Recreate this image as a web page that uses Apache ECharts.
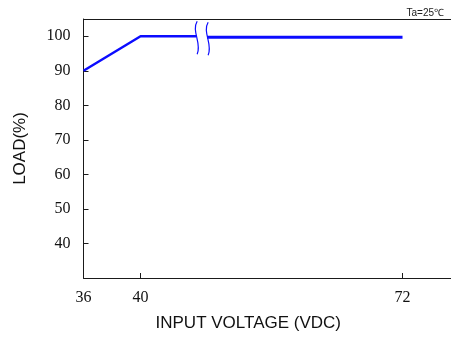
<!DOCTYPE html>
<html><head><meta charset="utf-8">
<script src="https://cdn.jsdelivr.net/npm/echarts@6/dist/echarts.min.js"></script>
<style>html,body{margin:0;padding:0;background:#fff}#c{width:451px;height:337px}</style>
</head><body><div id="c"></div>
<script>
// Data
const voltageLow = [36, 40, 43.9];
const loadLow = [90, 100, 100];
const voltageHigh = [58.3, 72];
const loadHigh = [99.7, 99.7];
const xTickValues = [36, 40, 72];
const yTickValues = [40, 50, 60, 70, 80, 90, 100];
const axisBreak = { start: 43.9, end: 58.3 };

const chart = echarts.init(document.getElementById('c'), null, { renderer: 'canvas' });
const lineColor = '#0c0cff';
const axisColor = '#1a1a1a';
const frameAxis = (pos) => ({
  type: 'value', position: pos, min: 36, max: 75.4,
  axisLine: { show: true, onZero: false, lineStyle: { color: axisColor, width: 1 } },
  axisTick: { show: false }, axisLabel: { show: false }, splitLine: { show: false }
});
chart.setOption({
  animation: false,
  grid: { left: 83.5, top: 19, right: 0, bottom: 59 },
  title: [{
    text: 'Ta=25℃', right: 2, top: 3,
    textStyle: { fontFamily: 'Liberation Sans', fontSize: 10, fontWeight: 'normal', color: '#222' }
  }],
  xAxis: [{
    type: 'value', position: 'bottom', min: 36, max: 75.4,
    breaks: [{ start: axisBreak.start, end: axisBreak.end, gap: 0.77 }],
    breakArea: { show: false },
    name: 'INPUT VOLTAGE (VDC)', nameLocation: 'middle', nameGap: 37,
    nameTextStyle: { fontFamily: 'Liberation Sans', fontSize: 17, color: '#111', padding: [0, 38, 0, 0] },
    axisLine: { show: false },
    axisTick: { show: true, inside: true, length: 5, customValues: xTickValues, lineStyle: { color: axisColor } },
    axisLabel: { customValues: xTickValues, margin: 12, fontFamily: 'Liberation Serif', fontSize: 16, color: '#111' },
    splitLine: { show: false }
  }, frameAxis('top'), frameAxis('bottom')],
  yAxis: {
    type: 'value', min: 30, max: 105,
    name: 'LOAD(%)', nameLocation: 'middle', nameGap: 55,
    nameTextStyle: { fontFamily: 'Liberation Sans', fontSize: 17, color: '#111' },
    axisLine: { show: true, lineStyle: { color: axisColor, width: 1 } },
    axisTick: { show: true, inside: true, length: 5, customValues: yTickValues, lineStyle: { color: axisColor } },
    axisLabel: { customValues: yTickValues, margin: 13, fontFamily: 'Liberation Serif', fontSize: 16, color: '#111' },
    splitLine: { show: false }
  },
  series: [{
    type: 'line', data: voltageLow.map((v, i) => [v, loadLow[i]]),
    symbol: 'none', lineStyle: { color: lineColor, width: 2.5 }
  }, {
    type: 'line', data: voltageHigh.map((v, i) => [v, loadHigh[i]]),
    symbol: 'none', lineStyle: { color: lineColor, width: 3 }
  }]
});

// break marks on the curve
const p1 = chart.convertToPixel({ xAxisIndex: 0, yAxisIndex: 0 }, [axisBreak.start, loadLow[2]]);
const p2 = chart.convertToPixel({ xAxisIndex: 0, yAxisIndex: 0 }, [axisBreak.end, loadHigh[0]]);
function wave(p) {
  return {
    type: 'bezierCurve',
    shape: { x1: p[0] + 1, y1: p[1] - 15, cpx1: p[0] - 5, cpy1: p[1] - 5, cpx2: p[0] + 6, cpy2: p[1] + 7, x2: p[0] + 1, y2: p[1] + 18 },
    style: { stroke: lineColor, lineWidth: 1.2, fill: null }
  };
}
chart.setOption({ graphic: [wave(p1), wave(p2)] });
</script></body></html>
